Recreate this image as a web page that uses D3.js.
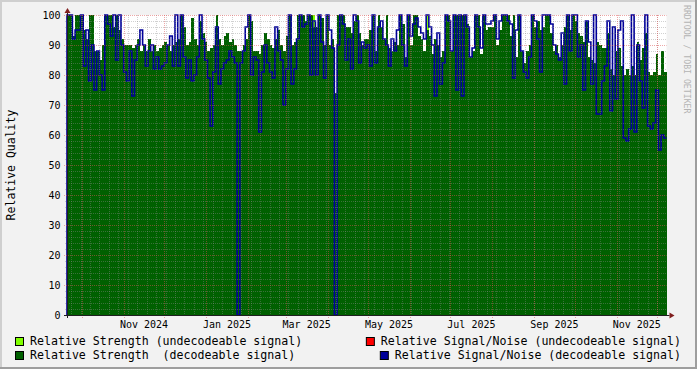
<!DOCTYPE html>
<html>
<head>
<meta charset="utf-8">
<script src="https://cdn.jsdelivr.net/npm/d3@7"></script>
<style>
body { margin: 0; background: #f2f2f2; }
svg text { font-family: "DejaVu Sans Mono", monospace; white-space: pre; }
</style>
</head>
<body>
<svg id="chart" width="697" height="369"></svg>
<script>
// one value every two days, starting 20 Sep 2024
var startDate = new Date(2024, 8, 20);
var stepDays = 2;

// Relative Strength (decodeable signal)
var strength = [
	100, 100, 93, 100, 100, 100, 95, 92, 100, 100,
	88, 88, 85, 90, 100, 100, 100, 96, 100, 95,
	92, 90, 90, 90, 89, 90, 92, 88, 90, 88,
	92, 88, 90, 88, 89, 90, 91, 90, 88, 90,
	91, 92, 100, 96, 90, 91, 99, 92, 90, 98,
	94, 91, 88, 89, 90, 100, 92, 90, 93, 94,
	91, 92, 90, 88, 88, 90, 92, 100, 98, 88,
	88, 87, 90, 94, 92, 90, 89, 92, 95, 90,
	88, 93, 100, 90, 91, 100, 100, 100, 98, 100,
	100, 96, 96, 100, 99, 90, 100, 90, 92, 74,
	100, 100, 100, 96, 96, 94, 98, 100, 94, 90,
	92, 92, 95, 100, 88, 100, 96, 92, 100, 89,
	88, 91, 90, 100, 97, 86, 100, 90, 100, 100,
	93, 92, 88, 95, 93, 87, 92, 90, 86, 88,
	100, 100, 88, 100, 100, 100, 100, 100, 97, 86,
	88, 100, 100, 87, 100, 95, 96, 96, 100, 90,
	95, 100, 100, 100, 93, 100, 86, 100, 88, 84,
	88, 90, 100, 96, 98, 95, 96, 100, 100, 94,
	88, 90, 86, 90, 96, 100, 95, 100, 98, 94,
	93, 91, 98, 86, 85, 84, 91, 90, 89, 89,
	94, 82, 80, 88, 89, 83, 80, 82, 80, 83,
	80, 91, 85, 89, 94, 81, 80, 81, 87, 80,
	88, 81
];

// Relative Signal/Noise (decodeable signal)
var snr = [
	100, 100, 92, 95, 95, 100, 83, 95, 78, 90,
	75, 88, 80, 75, 100, 97, 93, 100, 85, 100,
	90, 81, 78, 88, 73, 85, 90, 95, 90, 83,
	88, 90, 82, 86, 82, 83, 84, 90, 93, 83,
	100, 83, 100, 86, 79, 85, 78, 80, 86, 100,
	92, 85, 79, 63, 81, 96, 77, 82, 84, 85,
	88, 86, 84, 0, 84, 88, 96, 100, 80, 86,
	85, 61, 81, 90, 84, 81, 79, 96, 88, 85,
	70, 82, 100, 77, 82, 92, 100, 96, 97, 100,
	80, 98, 80, 100, 91, 79, 100, 95, 89, 0,
	90, 100, 97, 85, 92, 82, 100, 98, 84, 91,
	89, 90, 83, 100, 84, 96, 98, 92, 90, 83,
	92, 88, 95, 100, 90, 83, 100, 93, 97, 99,
	96, 94, 92, 100, 96, 90, 73, 94, 77, 84,
	100, 98, 88, 100, 75, 100, 73, 100, 96, 86,
	89, 100, 96, 89, 100, 97, 97, 98, 100, 92,
	98, 100, 100, 98, 97, 79, 95, 100, 88, 81,
	79, 86, 100, 98, 92, 81, 100, 100, 100, 97,
	90, 87, 85, 94, 77, 100, 88, 100, 100, 86,
	90, 75, 98, 91, 77, 100, 67, 67, 78, 83,
	98, 68, 96, 72, 95, 98, 59, 58, 62, 100,
	61, 90, 78, 69, 100, 63, 62, 64, 75, 55,
	60, 59
];

// undecodeable signal: only a couple of samples show up
var undecodeIndex = [91, 133];
var undecodeStrength = [100, 100];
var undecodeSnr = [null, null];

var yTicks = [0, 10, 20, 30, 40, 50, 60, 70, 80, 90, 100];
var legendLabels = [
	"Relative Strength (undecodeable signal)",
	"Relative Signal/Noise (undecodeable signal)",
	"Relative Strength  (decodeable signal)",
	"Relative Signal/Noise (decodeable signal)"
];
var legendColors = ["#80ff00", "#ff0000", "#006000", "#000099"];

var W = 697, H = 369;
var plotLeft = 67, plotRight = 666.5, plotTop = 15, plotBottom = 315;

var svg = d3.select("#chart");

var endDate = d3.timeDay.offset(startDate, stepDays * strength.length);
var x = d3.scaleTime().domain([startDate, endDate]).range([plotLeft, plotRight]);
var y = d3.scaleLinear().domain([0, 100]).range([plotBottom, plotTop]);

function dayOf(i)
{
	return d3.timeDay.offset(startDate, stepDays * i);
}

function toPoints(values)
{
	var pts = values.map(function(v, i)
	{
		return { t: dayOf(i), v: v };
	});
	pts.push({ t: endDate, v: values[values.length - 1] });
	return pts;
}

// frame
svg.append("rect").attr("width", W).attr("height", H).attr("fill", "#f2f2f2");
svg.append("rect").attr("x", 0).attr("y", 0).attr("width", W).attr("height", 2).attr("fill", "#cfcfcf");
svg.append("rect").attr("x", 0).attr("y", 0).attr("width", 2).attr("height", H).attr("fill", "#cfcfcf");
svg.append("rect").attr("x", 0).attr("y", H - 2).attr("width", W).attr("height", 2).attr("fill", "#9e9e9e");
svg.append("rect").attr("x", W - 2).attr("y", 0).attr("width", 2).attr("height", H).attr("fill", "#9e9e9e");

// canvas
svg.append("rect")
	.attr("x", plotLeft).attr("y", plotTop)
	.attr("width", plotRight - plotLeft).attr("height", plotBottom - plotTop)
	.attr("fill", "#ffffff");

// undecodeable strength
svg.selectAll("rect.undecode")
	.data(undecodeIndex)
	.enter()
	.append("rect")
	.attr("class", "undecode")
	.attr("x", function(d) { return x(dayOf(d)); })
	.attr("width", function(d) { return x(dayOf(d + 1)) - x(dayOf(d)); })
	.attr("y", function(d, i) { return y(undecodeStrength[i]); })
	.attr("height", function(d, i) { return y(0) - y(undecodeStrength[i]); })
	.attr("fill", legendColors[0])
	.attr("shape-rendering", "crispEdges");

// decodeable strength area
var area = d3.area()
	.curve(d3.curveStepAfter)
	.x(function(d) { return x(d.t); })
	.y0(y(0))
	.y1(function(d) { return y(d.v); });

svg.append("path")
	.datum(toPoints(strength))
	.attr("d", area)
	.attr("fill", legendColors[2])
	.attr("shape-rendering", "crispEdges");

// undecodeable snr (nothing defined)
var line = d3.line()
	.curve(d3.curveStepAfter)
	.defined(function(d) { return d.v != null; })
	.x(function(d) { return x(d.t); })
	.y(function(d) { return y(d.v); });

svg.append("path")
	.datum(undecodeIndex.map(function(d, i) { return { t: dayOf(d), v: undecodeSnr[i] }; }))
	.attr("d", line)
	.attr("fill", "none")
	.attr("stroke", legendColors[1]);

// decodeable snr line, rising from the axis at the start
var snrPts = toPoints(snr);
snrPts.unshift({ t: startDate, v: 0 });
svg.append("path")
	.datum(snrPts)
	.attr("d", line)
	.attr("fill", "none")
	.attr("stroke", legendColors[3])
	.attr("stroke-width", 1.6);

// grid
var gridColor = "rgba(140,140,140,0.4)";
var mgridColor = "rgba(222,79,79,0.5)";

var weeks = d3.timeMonday.range(startDate, endDate);
var months = d3.timeMonth.range(startDate, endDate);

function px(v)
{
	return Math.round(v) + 0.5;
}

svg.selectAll("line.vminor")
	.data(weeks)
	.enter()
	.append("line")
	.attr("x1", function(d) { return px(x(d)); })
	.attr("x2", function(d) { return px(x(d)); })
	.attr("y1", plotTop).attr("y2", plotBottom + 2)
	.attr("stroke", gridColor)
	.attr("stroke-dasharray", "1,1");

var minorY = d3.range(0, 101, 2).filter(function(v) { return v % 10 != 0; });
svg.selectAll("line.hminor")
	.data(minorY)
	.enter()
	.append("line")
	.attr("x1", plotLeft - 2).attr("x2", plotRight)
	.attr("y1", function(d) { return px(y(d)); })
	.attr("y2", function(d) { return px(y(d)); })
	.attr("stroke", gridColor)
	.attr("stroke-dasharray", "1,1");

svg.selectAll("line.vmajor")
	.data(months)
	.enter()
	.append("line")
	.attr("x1", function(d) { return px(x(d)); })
	.attr("x2", function(d) { return px(x(d)); })
	.attr("y1", plotTop).attr("y2", plotBottom + 3)
	.attr("stroke", mgridColor)
	.attr("stroke-dasharray", "1,1");

svg.selectAll("line.hmajor")
	.data(yTicks)
	.enter()
	.append("line")
	.attr("x1", plotLeft - 3).attr("x2", plotRight)
	.attr("y1", function(d) { return px(y(d)); })
	.attr("y2", function(d) { return px(y(d)); })
	.attr("stroke", mgridColor)
	.attr("stroke-dasharray", "1,1");

// axes
svg.append("line")
	.attr("x1", plotLeft - 3).attr("x2", plotRight + 3)
	.attr("y1", plotBottom + 0.5).attr("y2", plotBottom + 0.5)
	.attr("stroke", "#1f1f1f");
svg.append("line")
	.attr("x1", plotLeft + 0.5).attr("x2", plotLeft + 0.5)
	.attr("y1", plotBottom + 3).attr("y2", plotTop - 3)
	.attr("stroke", "#1f1f1f");

svg.append("path")
	.attr("d", "M" + (plotLeft + 0.5) + "," + (plotTop - 7) + "L" + (plotLeft - 2.5) + "," + (plotTop - 2) + "L" + (plotLeft + 3.5) + "," + (plotTop - 2) + "Z")
	.attr("fill", "#801f1f");
svg.append("path")
	.attr("d", "M" + (plotRight + 8) + "," + (plotBottom + 0.5) + "L" + (plotRight + 3) + "," + (plotBottom - 2.5) + "L" + (plotRight + 3) + "," + (plotBottom + 3.5) + "Z")
	.attr("fill", "#801f1f");

// y labels
svg.selectAll("text.ylab")
	.data(yTicks)
	.enter()
	.append("text")
	.attr("x", 60.5)
	.attr("y", function(d) { return y(d) + 3.6; })
	.attr("text-anchor", "end")
	.attr("font-size", "10px")
	.attr("fill", "#000")
	.text(function(d) { return d; });

// x labels, centred over every second month
var labelMonths = months.filter(function(d) { return d.getMonth() % 2 == 0; });
var fmt = d3.timeFormat("%b %Y");
svg.selectAll("text.xlab")
	.data(labelMonths)
	.enter()
	.append("text")
	.attr("x", function(d) { return (x(d) + x(d3.timeMonth.offset(d, 1))) / 2; })
	.attr("y", 328)
	.attr("text-anchor", "middle")
	.attr("font-size", "10px")
	.attr("fill", "#000")
	.text(function(d) { return fmt(d); });

// titles
svg.append("text")
	.attr("transform", "translate(15,165) rotate(-90)")
	.attr("text-anchor", "middle")
	.attr("font-size", "11.5px")
	.attr("fill", "#000")
	.text("Relative Quality");

svg.append("text")
	.attr("transform", "translate(684,5) rotate(90)")
	.attr("font-size", "8.2px")
	.attr("fill", "#b4b4b4")
	.text("RRDTOOL / TOBI OETIKER");

// legend
var rows = [345, 345, 359, 359];
legendLabels.forEach(function(label, i)
{
	var isRight = i % 2 == 1;
	var t = svg.append("text")
		.attr("y", rows[i])
		.attr("font-size", "11.6px")
		.attr("fill", "#000")
		.text(label);
	var tx;
	if (isRight)
	{
		t.attr("x", 681).attr("text-anchor", "end");
		tx = 681 - t.node().getComputedTextLength();
	}
	else
	{
		t.attr("x", 30);
		tx = 30;
	}
	svg.append("rect")
		.attr("x", tx - 14.5)
		.attr("y", rows[i] - 7.5)
		.attr("width", 8)
		.attr("height", 8)
		.attr("fill", legendColors[i])
		.attr("stroke", "#000")
		.attr("stroke-width", 1);
});
</script>
</body>
</html>
